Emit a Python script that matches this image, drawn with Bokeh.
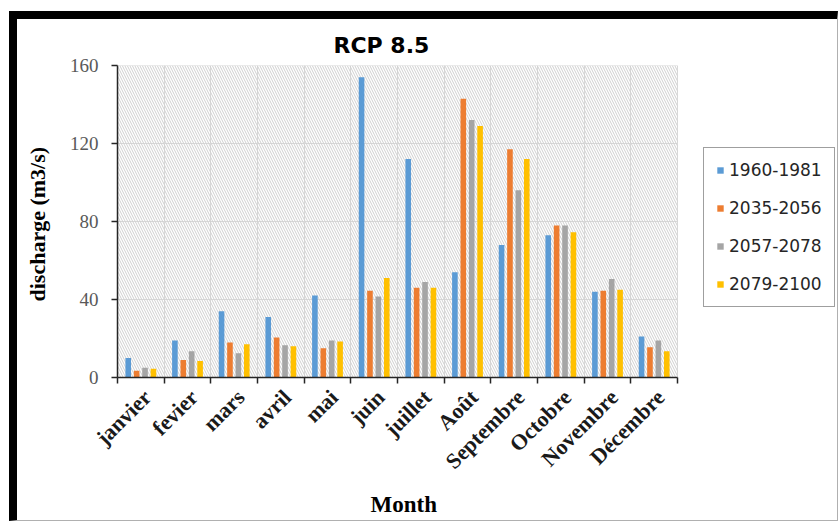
import math
from bokeh.plotting import figure
from bokeh.models import FixedTicker, BoxAnnotation, Legend, LegendItem, Title
from bokeh.embed import file_html
from bokeh.resources import INLINE

months = ["janvier", "fevier", "mars", "avril", "mai", "juin", "juillet",
          "Août", "Septembre", "Octobre", "Novembre", "Décembre"]
series_names = ["1960-1981", "2035-2056", "2057-2078", "2079-2100"]
colors = ["#5B9BD5", "#ED7D31", "#A5A5A5", "#FFC000"]

p1960_1981 = [10, 19, 34, 31, 42, 154, 112, 54, 68, 73, 44, 21]
p2035_2056 = [3.5, 9, 18, 20.5, 15, 44.5, 46, 143, 117, 78, 44.5, 15.5]
p2057_2078 = [5, 13.5, 12.5, 16.5, 19, 41.5, 49, 132, 96, 78, 50.5, 19]
p2079_2100 = [4.5, 8.5, 17, 16, 18.5, 51, 46, 129, 112, 74.5, 45, 13.5]
series_values = [p1960_1981, p2035_2056, p2057_2078, p2079_2100]
y_ticks = [0, 40, 80, 120, 160]

n = len(months)
offsets = [-0.27, -0.09, 0.09, 0.27]
bar_width = 0.12
label_shift = 0.14

# frame: 560 px for the 12 months, extended to the right to host the legend
frame_w = 719
x_end = n * frame_w / 560.0

p = figure(frame_width=frame_w, frame_height=312, x_range=(0, x_end), y_range=(0, 160),
           output_backend="svg", toolbar_location=None,
           min_border_left=100, min_border_right=1,
           min_border_top=46, min_border_bottom=140)
p.styles = {"position": "relative", "left": "9px", "top": "11px",
            "border-left": "8px solid black", "border-top": "8px solid black",
            "border-right": "1px solid #b0b0b0", "border-bottom": "1px solid #b0b0b0"}
p.background_fill_color = "white"
p.border_fill_color = "white"
p.outline_line_color = None

# title
p.title.text = "RCP 8.5"
p.title.align = "left"
p.title.offset = 216
p.title.text_font = "DejaVu Sans"
p.title.text_font_style = "bold"
p.title.text_font_size = "22px"
p.title.text_color = "black"
p.title.standoff = 16

# hatch background over the month area only
bg = BoxAnnotation(left=0, right=n, bottom=0, top=160,
                   fill_alpha=0, line_alpha=0, hatch_pattern="\\",
                   hatch_color="#cfcfcf", hatch_scale=5, hatch_weight=1,
                   level="underlay")
p.add_layout(bg)

# grids
p.xgrid.ticker = FixedTicker(ticks=list(range(n + 1)))
p.xgrid.grid_line_color = "#d9d9d9"
p.xgrid.grid_line_width = 1
p.ygrid.grid_line_color = None
p.segment(x0=[0] * len(y_ticks), x1=[n] * len(y_ticks), y0=y_ticks, y1=y_ticks,
          line_color="#d9d9d9", line_width=1, level="underlay")

# bars
renderers = []
for name, vals, col, off in zip(series_names, series_values, colors, offsets):
    xs = [i + 0.5 + off for i in range(n)]
    r = p.vbar(x=xs, top=vals, width=bar_width, fill_color=col, line_color=None)
    renderers.append((name, r))

# x axis
xa = p.xaxis[0]
xa.bounds = (0, n)
xa.ticker = FixedTicker(ticks=[i + 0.5 + label_shift for i in range(n)],
                        minor_ticks=list(range(n + 1)))
xa.major_label_overrides = {i + 0.5 + label_shift: m for i, m in enumerate(months)}
xa.major_tick_out = 0
xa.major_tick_in = 0
xa.minor_tick_out = 6
xa.minor_tick_in = 0
xa.minor_tick_line_color = "#262626"
xa.minor_tick_line_width = 1.5
xa.axis_line_color = "#262626"
xa.axis_line_width = 1.5
xa.major_label_orientation = math.pi / 4
xa.major_label_text_font = "Liberation Serif"
xa.major_label_text_font_style = "bold"
xa.major_label_text_font_size = "22px"
xa.major_label_text_color = "#1a1a1a"
xa.major_label_standoff = 10

# "Month" label centred under the month area
month_title = Title(text="Month", align="left", offset=253,
                    text_font="Liberation Serif", text_font_style="bold",
                    text_font_size="23px", text_color="black", standoff=8)
p.add_layout(month_title, "below")

# y axis
ya = p.yaxis[0]
ya.ticker = FixedTicker(ticks=y_ticks)
ya.major_tick_out = 6
ya.major_tick_in = 0
ya.minor_tick_out = 0
ya.minor_tick_in = 0
ya.major_tick_line_color = "#262626"
ya.major_tick_line_width = 1.5
ya.axis_line_color = "#262626"
ya.axis_line_width = 1.5
ya.major_label_text_font = "Liberation Serif"
ya.major_label_text_font_size = "19px"
ya.major_label_text_color = "#595959"
ya.major_label_standoff = 13
ya.axis_label = "discharge  (m3/s)"
ya.axis_label_text_font = "Liberation Serif"
ya.axis_label_text_font_style = "bold"
ya.axis_label_text_font_size = "22px"
ya.axis_label_text_color = "black"
ya.axis_label_standoff = 17

# legend (inside the extended frame, right of the months)
legend = Legend(items=[LegendItem(label=s, renderers=[r]) for s, r in renderers],
                location=(586, 70), orientation="vertical")
legend.label_text_font = "DejaVu Sans"
legend.label_text_font_size = "17px"
legend.label_text_color = "#262626"
legend.glyph_width = 8
legend.glyph_height = 8
legend.label_standoff = 5
legend.label_height = 20
legend.spacing = 18
legend.padding = 12
legend.margin = 0
legend.border_line_color = "#404040"
legend.border_line_width = 1.5
legend.background_fill_color = "white"
legend.background_fill_alpha = 1
p.add_layout(legend, "center")

open("out.html", "w").write(file_html(p, INLINE))
